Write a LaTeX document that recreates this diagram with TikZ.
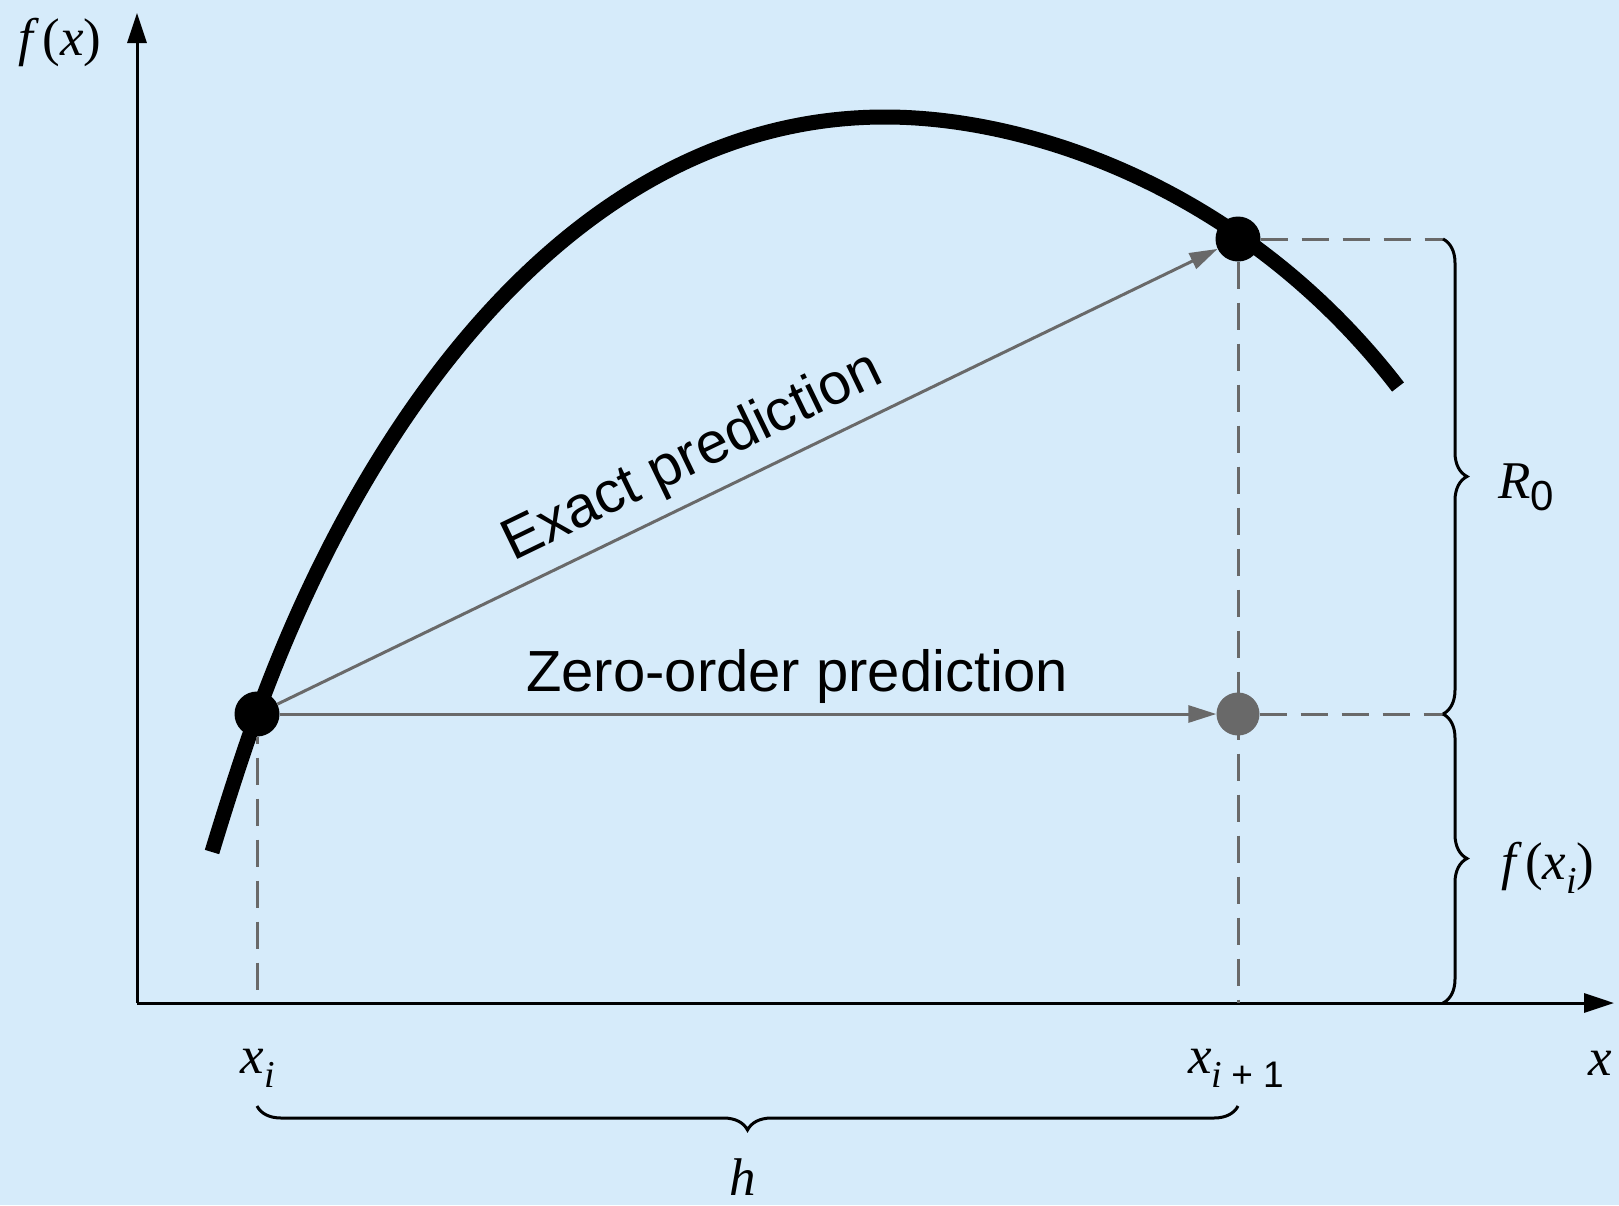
\documentclass[tikz,border=0pt]{standalone}
\usepackage{fontspec}
\setmainfont{Liberation Serif}
\newfontfamily\labelsans{Liberation Sans}
\usetikzlibrary{arrows.meta,decorations.pathreplacing}
\definecolor{bgblue}{RGB}{214,235,250}
\definecolor{dgray}{RGB}{105,105,105}
\newcommand{\mysub}[1]{\raisebox{-14pt}{\fontsize{38}{38}\selectfont #1}}
\begin{document}
\begin{tikzpicture}[x=1pt,y=-1pt,
  axis/.style={line width=3pt,-{Triangle[length=30pt,width=19pt]}},
  curve/.style={line width=15pt,line cap=butt},
  dotb/.style={circle,fill=black,minimum size=45pt,inner sep=0pt},
  dotg/.style={circle,fill=dgray,minimum size=43pt,inner sep=0pt},
  predarrow/.style={draw=dgray,line width=3pt,-{Triangle[length=28pt,width=17pt]}},
  guide/.style={draw=dgray,line width=3pt,dash pattern=on 27pt off 14pt},
  mybrace/.style={decorate,decoration={brace,amplitude=24pt},line width=3pt},
  lab/.style={font=\fontsize{53}{53}\selectfont,inner sep=0pt},
  sanslab/.style={font=\labelsans\fontsize{58}{58}\selectfont,inner sep=0pt}
]
\path[use as bounding box,fill=bgblue] (0,0) rectangle (1619,1205);

% axes
\coordinate (O) at (137,1003);
\coordinate (ytip) at (137,13);
\coordinate (xtip) at (1614,1003);
\draw[axis] (O) -- (ytip);
\draw[axis] (O) -- (xtip);

% curve
\draw[curve] (212,852) .. controls (225,809) and (243,752.5) .. (257,714)
  .. controls (367,411.5) and (580,117) .. (885,117)
  .. controls (1035,117) and (1248,192) .. (1398,387);

% reference coordinates
\coordinate (r1) at (1443,239);
\coordinate (r0) at (1443,714);
\coordinate (rb) at (1443,1003);
\coordinate (a0) at (257,1003);
\coordinate (a1) at (1238,1003);
\coordinate (b0) at (257,1106);
\coordinate (b1) at (1238,1106);

% points
\node[dotb] (p0) at (257,714) {};
\node[dotb] (p1) at (1238,239) {};

% guides
\draw[guide] (p1) -- (r1);
\draw[guide] (p1) -- (a1);
\draw[guide,dash phase=20pt] (p0) -- (a0);

\node[dotg] (q1) at (1238,714) {};
\draw[guide] (q1) -- (r0);

% predictions
\draw[predarrow] (p0) -- (p1);
\draw[predarrow] (p0) -- (q1);

% braces
\draw[mybrace] (r1) -- (r0);
\draw[mybrace] (r0) -- (rb);
\draw[mybrace] (b1) -- (b0);

% labels
\node[lab] (fx) at (60,42) {\textit{f}\kern3pt(\textit{x})};
\node[lab] (xi) at (258,1068) {\textit{x}\mysub{\textit{i}}};
\node[lab] (xip) at (1236,1068) {\textit{x}\mysub{\textit{i}\kern9pt{\labelsans\fontsize{37}{37}\selectfont + 1}}};
\node[lab] (xl) at (1600,1063) {\textit{x}};
\node[lab] (hl) at (743,1177) {\textit{h}};
\node[lab] (R0) at (1526,487) {\textit{R}\raisebox{-12pt}{\labelsans\fontsize{42}{42}\selectfont 0}};
\node[lab] (fxi) at (1548,868) {\textit{f}\kern3pt(\textit{x}\mysub{\textit{i}})};
\node[sanslab] (zop) at (797,676) {Zero-order prediction};
\node[sanslab,rotate=25.8] (exp) at (693,458) {Exact prediction};
\end{tikzpicture}
\end{document}
